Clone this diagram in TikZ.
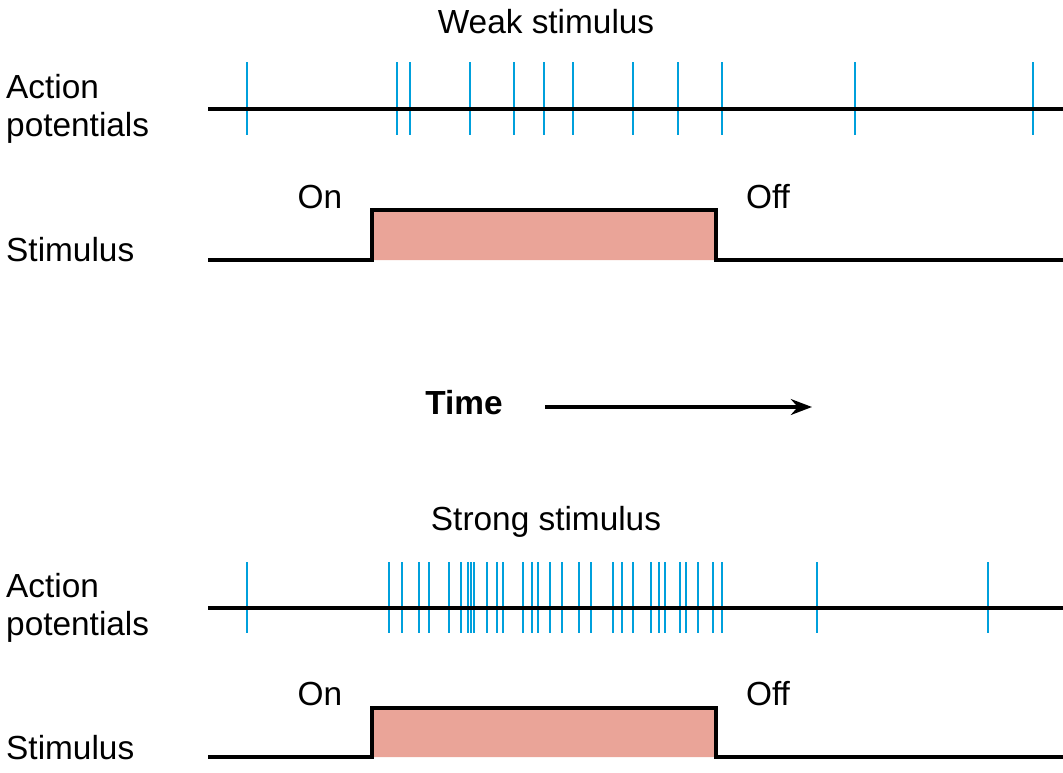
\documentclass[tikz,border=0pt]{standalone}
\usepackage{fontspec}
\setmainfont{Liberation Sans}
\usetikzlibrary{arrows.meta}
\definecolor{spike}{RGB}{0,160,220}
\definecolor{stimfill}{RGB}{234,164,152}
\tikzset{>=Stealth,
  axis/.style={line width=2.2pt},
  ap/.style={spike, line width=1.6pt},
  lbl/.style={font=\fontsize{19}{22}\selectfont, align=left}}
\begin{document}
\begin{tikzpicture}[x=0.02cm, y=-0.02cm]
\useasboundingbox (0,0) rectangle (1063,772);
% weak stimulus
\node[lbl] (weak) at (546,22) {Weak stimulus};
\node[lbl, anchor=west] (apw) at (0,109) {Action\\potentials};
\foreach \x in {247,397,410,470,514,544,573,633,678,722,855,1033}
\draw[ap] (\x,62) -- (\x,135);
\coordinate (w1) at (208,109);
\coordinate (w2) at (1063,109);
\draw[axis] (w1) -- (w2);
\node[lbl, anchor=west] (stw) at (0,250) {Stimulus};
\draw[axis, fill=stimfill] (208,260) -- (372,260) -- (372,210) -- (716,210) -- (716,260) -- (1063,260);
\node[lbl] (onw) at (320,197) {On};
\node[lbl] (offw) at (768,197) {Off};
% time
\node[lbl, font=\fontsize{19}{22}\selectfont\bfseries] (time) at (464,403) {Time};
\coordinate (t1) at (545,407);
\coordinate (t2) at (812,407);
\draw[->, line width=2pt] (t1) -- (t2);
% strong stimulus
\node[lbl] (strong) at (546,522) {Strong stimulus};
\node[lbl, anchor=west] (aps) at (0,608) {Action\\potentials};
\foreach \x in {247,389,402,419,429,449,461,468,471,474,487,497,503,523,532,538,550,562,579,591,613,622,633,651,659,665,680,686,698,713,722,817,988}
\draw[ap] (\x,562) -- (\x,633);
\coordinate (s1) at (208,608);
\coordinate (s2) at (1063,608);
\draw[axis] (s1) -- (s2);
\node[lbl, anchor=west] (sts) at (0,748) {Stimulus};
\draw[axis, fill=stimfill] (208,757) -- (372,757) -- (372,708) -- (716,708) -- (716,757) -- (1063,757);
\node[lbl] (ons) at (320,694) {On};
\node[lbl] (offs) at (768,694) {Off};
\end{tikzpicture}
\end{document}
